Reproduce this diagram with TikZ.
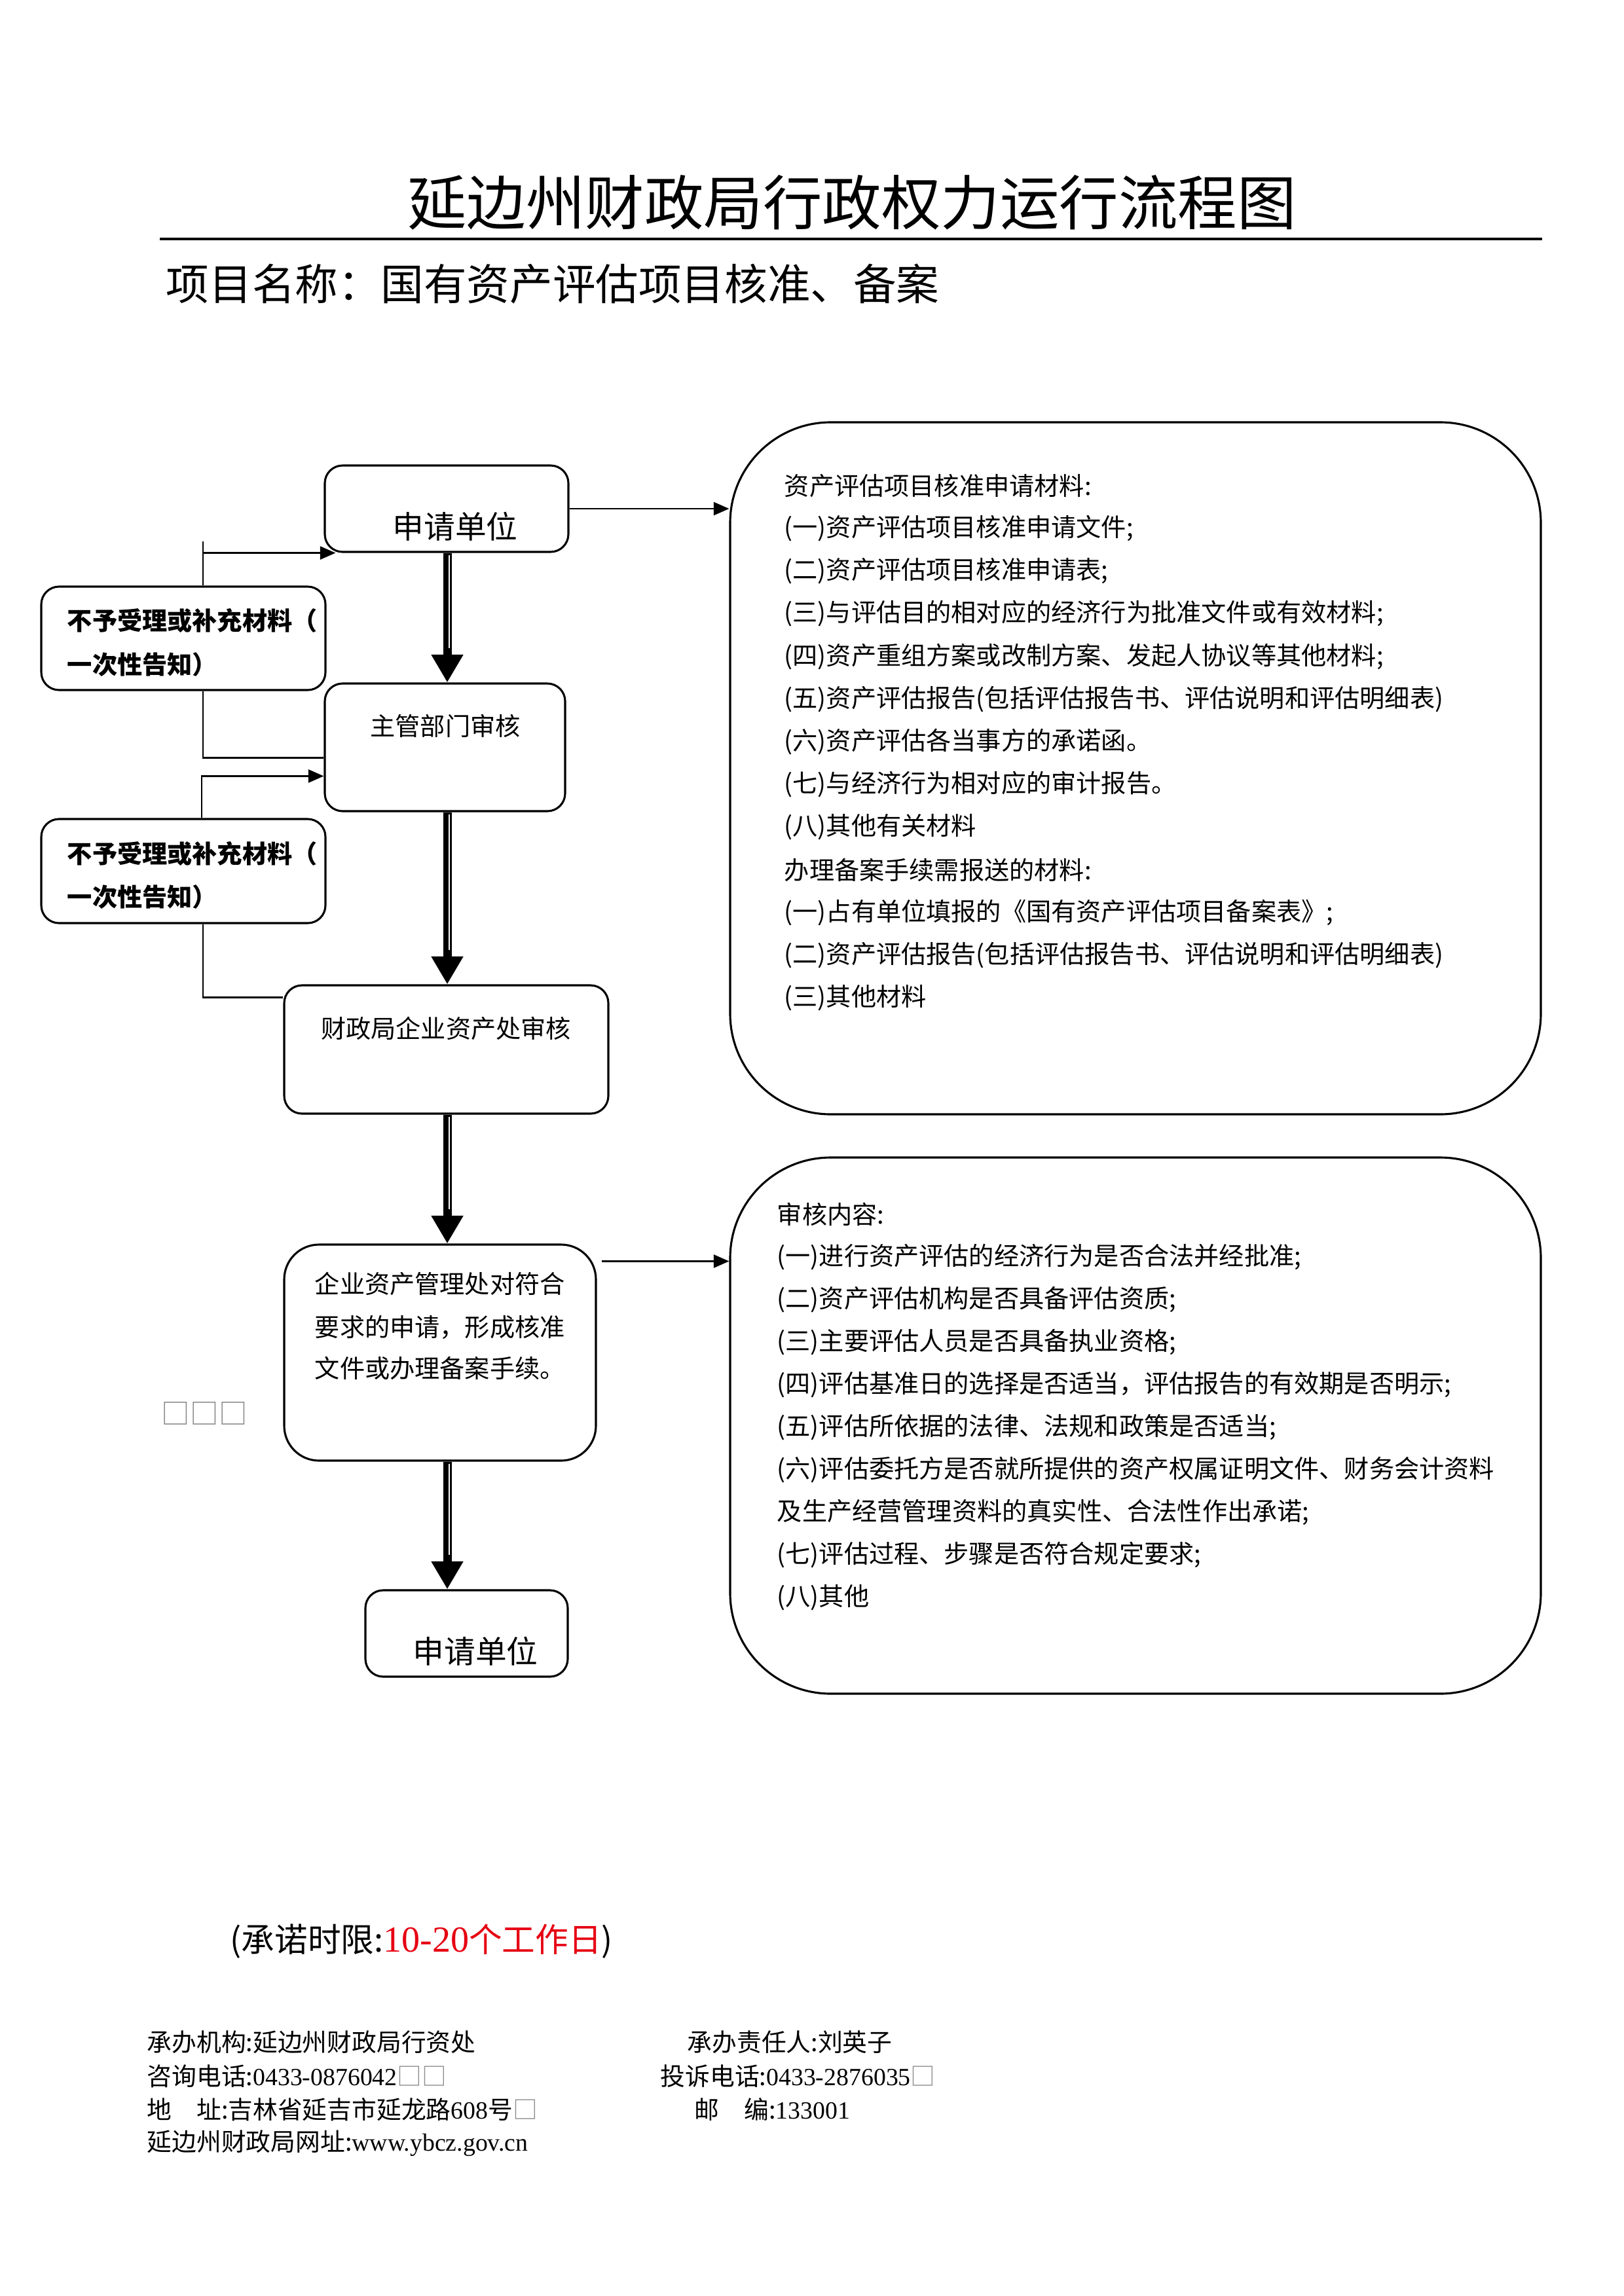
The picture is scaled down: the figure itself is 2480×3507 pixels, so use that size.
\documentclass[tikz,border=0pt]{standalone}
\usepackage{fontspec}
\setmainfont{Noto Sans CJK SC}
\newfontfamily\serifnum{Liberation Serif}
\usetikzlibrary{arrows.meta,fit,calc}
\definecolor{redtxt}{RGB}{230,0,18}
\definecolor{glyphgray}{RGB}{140,140,140}
\begin{document}
\begin{tikzpicture}[x=0.084667mm,y=-0.084667mm,
  box/.style={draw, line width=0.75pt, rounded corners=2.3mm, inner sep=0pt},
  rbox/.style={draw, line width=0.75pt, rounded corners=4.5mm, inner sep=0pt},
  bigbox/.style={draw, line width=0.75pt, rounded corners=13mm, inner sep=0pt},
  t9/.style={inner sep=0pt, font=\fontsize{9.2pt}{11pt}\selectfont},
  lt/.style={t9, anchor=west},
  tbig/.style={inner sep=0pt, font=\fontsize{11.5pt}{13pt}\selectfont},
  ft/.style={inner sep=0pt, anchor=west, font=\fontsize{9.1pt}{11pt}\selectfont},
  conn/.style={line width=0.6pt},
  carrow/.style={conn, -{Triangle[length=2mm,width=1.7mm]}},
  flow/.style={line width=1.1mm, -{Triangle[length=3.6mm,width=3.9mm]}},
  gapline/.style={white, line width=0.22mm}
]
\fill[white] (0,0) rectangle (2480,3507);
\useasboundingbox (0,0) rectangle (2480,3507);

% title
\node[inner sep=0pt, font=\fontsize{21.8pt}{24pt}\selectfont] (title) at (1301,309) {延边州财政局行政权力运行流程图};
\draw[line width=0.34mm] (244,365) -- (2355,365);
\node[inner sep=0pt, anchor=west, font=\fontsize{15.8pt}{18pt}\selectfont] (sub) at (253,434) {项目名称：国有资产评估项目核准、备案};

% main flow boxes
\node[box, fit={(496,711) (868,843)}] (s1) {};
\node[tbig] (s1t) at (695,804) {申请单位};
\node[box, fit={(496,1044) (863,1239)}] (s2) {};
\node[t9] (s2t) at (680,1109) {主管部门审核};
\node[box, fit={(434,1505) (929,1701)}] (s3) {};
\node[t9] (s3t) at (681,1571) {财政局企业资产处审核};
\node[rbox, fit={(434,1901) (910,2231)}] (s4) {};
\node[lt] (s4a) at (480,1961) {企业资产管理处对符合};
\node[lt] (s4b) at (480,2027) {要求的申请，形成核准};
\node[lt] (s4c) at (480,2090) {文件或办理备案手续。};
\node[box, fit={(558,2429) (867,2561)}] (s5) {};
\node[tbig] (s5t) at (726,2522) {申请单位};

% left boxes
\node[box, fit={(63,896) (497,1054)}] (n1) {};
\node[lt, font=\fontsize{9.2pt}{11pt}\selectfont\bfseries] (n1a) at (102,948) {不予受理或补充材料（};
\node[lt, font=\fontsize{9.2pt}{11pt}\selectfont\bfseries] (n1b) at (102,1015) {一次性告知）};
\node[box, fit={(63,1251) (497,1410)}] (n2) {};
\node[lt, font=\fontsize{9.2pt}{11pt}\selectfont\bfseries] (n2a) at (102,1304) {不予受理或补充材料（};
\node[lt, font=\fontsize{9.2pt}{11pt}\selectfont\bfseries] (n2b) at (102,1370) {一次性告知）};

% right boxes
\node[bigbox, fit={(1115,645) (2353,1702)}] (ra) {};
\node[lt] (ra1) at (1197,742) {资产评估项目核准申请材料:};
\node[lt] (ra2) at (1197,807) {(一)资产评估项目核准申请文件;};
\node[lt] (ra3) at (1197,872) {(二)资产评估项目核准申请表;};
\node[lt] (ra4) at (1197,937) {(三)与评估目的相对应的经济行为批准文件或有效材料;};
\node[lt] (ra5) at (1197,1003) {(四)资产重组方案或改制方案、发起人协议等其他材料;};
\node[lt] (ra6) at (1197,1068) {(五)资产评估报告(包括评估报告书、评估说明和评估明细表)};
\node[lt] (ra7) at (1197,1133) {(六)资产评估各当事方的承诺函。};
\node[lt] (ra8) at (1197,1198) {(七)与经济行为相对应的审计报告。};
\node[lt] (ra9) at (1197,1263) {(八)其他有关材料};
\node[lt] (ra10) at (1197,1329) {办理备案手续需报送的材料:};
\node[lt] (ra11) at (1197,1394) {(一)占有单位填报的《国有资产评估项目备案表》;};
\node[lt] (ra12) at (1197,1459) {(二)资产评估报告(包括评估报告书、评估说明和评估明细表)};
\node[lt] (ra13) at (1197,1524) {(三)其他材料};

\node[bigbox, fit={(1115,1768) (2353,2587)}] (rb) {};
\node[lt] (rb1) at (1186,1855) {审核内容:};
\node[lt] (rb2) at (1186,1920) {(一)进行资产评估的经济行为是否合法并经批准;};
\node[lt] (rb3) at (1186,1985) {(二)资产评估机构是否具备评估资质;};
\node[lt] (rb4) at (1186,2050) {(三)主要评估人员是否具备执业资格;};
\node[lt] (rb5) at (1186,2115) {(四)评估基准日的选择是否适当，评估报告的有效期是否明示;};
\node[lt] (rb6) at (1186,2180) {(五)评估所依据的法律、法规和政策是否适当;};
\node[lt] (rb7) at (1186,2245) {(六)评估委托方是否就所提供的资产权属证明文件、财务会计资料};
\node[lt] (rb8) at (1186,2310) {及生产经营管理资料的真实性、合法性作出承诺;};
\node[lt] (rb9) at (1186,2375) {(七)评估过程、步骤是否符合规定要求;};
\node[lt] (rb10) at (1186,2440) {(八)其他};

% missing glyph boxes
\node[lt, text=glyphgray, font=\fontsize{10.5pt}{12pt}\selectfont] (miss) at (246,2159) {□□□};

% main flow arrows
\coordinate (col) at (683,0);
\foreach \a/\b in {s1/s2, s2/s3, s3/s4, s4/s5}{
  \draw[flow] (col |- \a.south) -- (col |- \b.north);
  \draw[gapline] ($(col |- \a.south)+(3,3)$) -- ($(col |- \b.north)+(3,-52)$);
}

% right arrows
\draw[carrow] (s1.east) -- (s1.east -| ra.west);
\coordinate (s4out) at ($(s4.north east)+(7,27)$);
\draw[carrow] (s4out) -- (s4out -| rb.west);

% left feedback connectors
\coordinate (lx) at (310,0);
\draw[conn] (lx |- n1.north) -- ++(0,-67);
\draw[carrow] (lx |- s1.south) -- ($(s1.south west)+(18,0)$);
\draw[conn] (lx |- n1.south) |- ($(s2.north west)+(0,115)$);
\coordinate (lx2) at (308,0);
\draw[carrow] (lx2 |- n2.north) |- ($(s2.north west)+(0,143)$);
\draw[conn] (lx |- n2.south) |- ($(s3.north west)+(0,20)$);

% time limit
\node[inner sep=0pt, anchor=west, font=\fontsize{12.2pt}{14pt}\selectfont] (limit) at (351,2965)
  {(承诺时限:\textcolor{redtxt}{{\serifnum\fontsize{13.5pt}{14pt}\selectfont 10-20}个工作日})};

% footer
\node[ft] (f1) at (224,3119) {承办机构:延边州财政局行资处};
\node[ft] (f2) at (224,3171) {咨询电话:{\serifnum 0433-0876042}\textcolor{glyphgray}{□□}};
\node[ft] (f3) at (224,3222) {地　址:吉林省延吉市延龙路{\serifnum 608}号\textcolor{glyphgray}{□}};
\node[ft] (f4) at (224,3274) {延边州财政局网址:{\serifnum www.ybcz.gov.cn}};
\node[ft] (f5) at (1049,3119) {承办责任人:刘英子};
\node[ft] (f6) at (1008,3171) {投诉电话:{\serifnum 0433-2876035}\textcolor{glyphgray}{□}};
\node[ft] (f7) at (1060,3222) {邮　编:{\serifnum 133001}};
\end{tikzpicture}
\end{document}
